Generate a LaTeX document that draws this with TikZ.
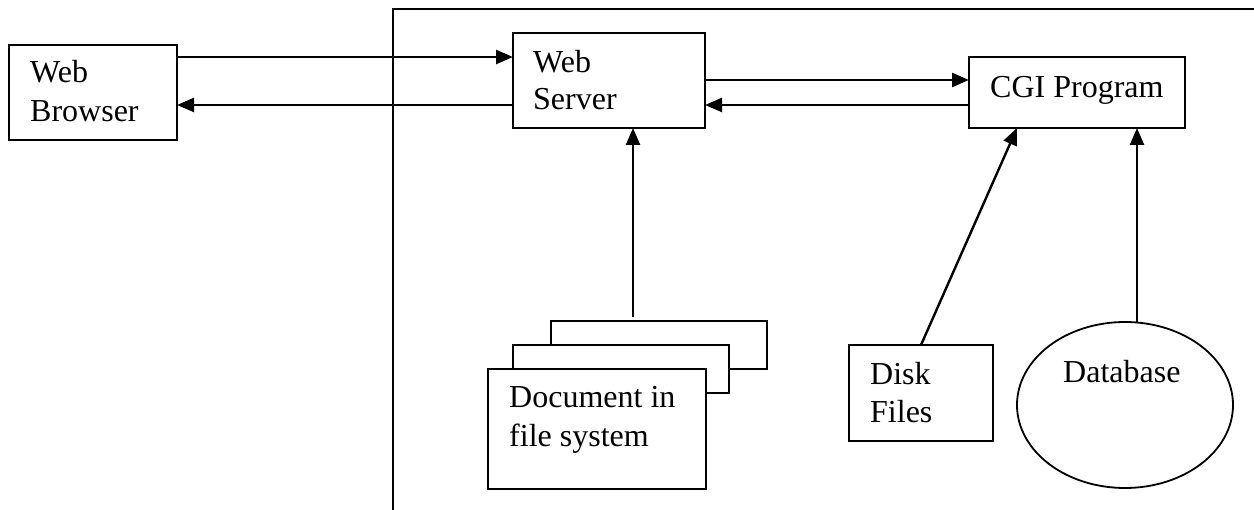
\documentclass[tikz,border=0pt]{standalone}
\usepackage{fontspec}
\setmainfont{Liberation Serif}
\usetikzlibrary{arrows.meta,shapes.geometric}
\begin{document}
\begin{tikzpicture}[x=1pt,y=-1pt,
 box/.style={draw,line width=2.4pt,rectangle,inner sep=0pt,outer sep=0pt,anchor=north west,fill=white},
 lbl/.style={anchor=base west,inner sep=0pt,font=\fontsize{32}{38}\selectfont},
 arr/.style={line width=2.4pt,-{Triangle[length=17pt,width=14pt]}},
 ln/.style={line width=2.4pt}]
\useasboundingbox[fill=white] (0,0) rectangle (1254,510);
% frame
\draw[ln] (1254,9) -- (393,9) -- (393,510);
% boxes
\node[box,minimum width=168pt,minimum height=95pt] (browser) at (9,45) {};
\node[box,minimum width=192pt,minimum height=95pt] (server) at (513,33) {};
\node[box,minimum width=216pt,minimum height=71pt] (cgi) at (969,57) {};
\node[box,minimum width=216pt,minimum height=48pt] (doc3) at (551,321) {};
\node[box,minimum width=216pt,minimum height=48pt] (doc2) at (513,345) {};
\node[box,minimum width=218pt,minimum height=120pt] (doc1) at (488,369) {};
\node[box,minimum width=144pt,minimum height=96pt] (disk) at (849,345) {};
\node[draw,ellipse,line width=1.8pt,inner sep=0pt,outer sep=0pt,minimum width=216pt,minimum height=166pt] (db) at (1125,405) {};
% labels
\node[lbl] (t1) at (30,83) {Web};
\node[lbl] (t2) at (30,122) {Browser};
\node[lbl] (t3) at (533,73) {Web};
\node[lbl] (t4) at (533,110) {Server};
\node[lbl] (t5) at (990,98) {CGI Program};
\node[lbl] (t6) at (509,408) {Document in};
\node[lbl] (t7) at (509,447) {file system};
\node[lbl] (t8) at (870,385) {Disk};
\node[lbl] (t9) at (870,423) {Files};
\node[lbl] (t10) at (1063,383) {Database};
% connectors
\coordinate (y1) at (0,57);
\coordinate (y2) at (0,105);
\coordinate (y3) at (0,80);
\draw[arr] (browser.east |- y1) -- (server.west |- y1);
\draw[arr] (server.west |- y2) -- (browser.east |- y2);
\draw[arr] (server.east |- y3) -- (cgi.west |- y3);
\draw[arr] (cgi.west |- y2) -- (server.east |- y2);
\coordinate (d0) at (633,317);
\draw[arr] (d0) -- (d0 |- server.south);
\coordinate (c1) at (1017,0);
\draw[arr] (disk.north) -- (c1 |- cgi.south);
\coordinate (c2) at (1137,322);
\draw[arr] (c2) -- (c2 |- cgi.south);
\end{tikzpicture}
\end{document}
